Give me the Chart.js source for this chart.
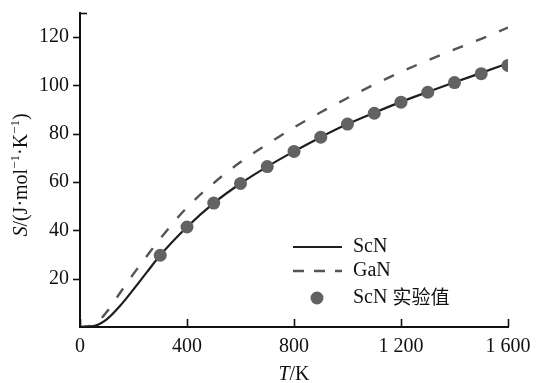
<!DOCTYPE html>
<html>
<head>
<meta charset="utf-8">
<script src="https://cdn.jsdelivr.net/npm/chart.js@4.4.1/dist/chart.umd.min.js"></script>
<style>
  html, body { margin: 0; padding: 0; background: #fff; }
  #wrap { width: 537px; height: 383px; }
</style>
</head>
<body>
<div id="wrap"><canvas id="c" width="537" height="383"></canvas></div>
<script>
// Temperatur (K) untuk kurva hitung
const temps = [0, 50, 100, 150, 200, 250, 300, 400, 500, 600, 700, 800, 900, 1000, 1100, 1200, 1300, 1400, 1500, 1600];
const scnCalc = [0, 0.4, 3.2, 8.8, 15.6, 22.7, 29.7, 41.4, 51.3, 59.4, 66.4, 72.7, 78.6, 84.0, 88.7, 93.2, 97.3, 101.3, 105.2, 109.2];
const ganCalc = [0, 0.8, 6.3, 14.2, 22.0, 29.4, 36.6, 49.5, 59.6, 68.3, 75.7, 82.6, 88.9, 94.8, 100.4, 105.6, 110.4, 114.9, 119.3, 124.0];

// Titik eksperimen ScN
const expTemps = [300, 400, 500, 600, 700, 800, 900, 1000, 1100, 1200, 1300, 1400, 1500, 1600];
const scnExp = [29.7, 41.4, 51.3, 59.4, 66.4, 72.7, 78.6, 84.0, 88.5, 93.1, 97.2, 101.2, 104.9, 108.3];

// Label sumbu
const xTickVals = [0, 400, 800, 1200, 1600];
const yTickVals = [20, 40, 60, 80, 100, 120];
const legendLabels = ['ScN', 'GaN', 'ScN 实验值'];

const serif = '"Liberation Serif", "Times New Roman", serif';
const cjk = '"Noto Sans CJK SC", sans-serif';

function toPoints(xs, ys) {
  return xs.map((t, i) => ({ x: t, y: ys[i] }));
}

function line(ctx, x1, y1, x2, y2) {
  ctx.beginPath();
  ctx.moveTo(x1, y1);
  ctx.lineTo(x2, y2);
  ctx.stroke();
}

// teks dengan potongan font berbeda (miring, superskrip)
function drawRich(ctx, parts, cx, cy) {
  let total = 0;
  parts.forEach(p => { ctx.font = p.font; p.w = ctx.measureText(p.text).width; total += p.w; });
  let x = cx - total / 2;
  ctx.textAlign = 'left';
  ctx.textBaseline = 'alphabetic';
  parts.forEach(p => {
    ctx.font = p.font;
    ctx.fillText(p.text, x, cy + (p.dy || 0));
    x += p.w;
  });
}

const decorPlugin = {
  id: 'decor',
  afterDraw(chart) {
    const { ctx, chartArea: a, scales } = chart;
    const xs = scales.x, ys = scales.y;
    ctx.save();
    ctx.strokeStyle = '#111';
    ctx.fillStyle = '#111';
    ctx.lineWidth = 1.6;

    // tick sumbu y ke luar
    yTickVals.forEach(v => {
      const py = Math.round(ys.getPixelForValue(v)) + 0.5;
      line(ctx, a.left - 7, py, a.left, py);
    });
    // ujung atas sumbu y
    line(ctx, a.left, a.top + 0.5, a.left + 7, a.top + 0.5);
    // tick sumbu x ke dalam
    xTickVals.forEach(v => {
      const px = Math.round(xs.getPixelForValue(v)) + 0.5;
      line(ctx, px, a.bottom, px, a.bottom - 8);
    });

    // judul sumbu x
    const f20 = '20px ' + serif;
    const f20i = 'italic 20px ' + serif;
    const fsup = '13px ' + serif;
    drawRich(ctx, [
      { text: 'T', font: f20i },
      { text: '/K', font: f20 }
    ], (a.left + a.right) / 2, 380);

    // judul sumbu y
    ctx.save();
    ctx.translate(27, (a.top + a.bottom) / 2 + 5);
    ctx.rotate(-Math.PI / 2);
    drawRich(ctx, [
      { text: 'S', font: f20i },
      { text: '/(J·mol', font: f20 },
      { text: '−1', font: fsup, dy: -8 },
      { text: '·K', font: f20 },
      { text: '−1', font: fsup, dy: -8 },
      { text: ')', font: f20 }
    ], 0, 0);
    ctx.restore();

    // legenda
    const lx1 = 293, lx2 = 342, tx = 353;
    const rows = [247, 271, 298];
    ctx.lineWidth = 2.2;
    ctx.strokeStyle = '#1e1e1e';
    line(ctx, lx1, rows[0], lx2, rows[0]);
    ctx.strokeStyle = '#555';
    ctx.lineWidth = 2.4;
    ctx.setLineDash([11, 10]);
    line(ctx, lx1, rows[1], lx2, rows[1]);
    ctx.setLineDash([]);
    ctx.fillStyle = '#626262';
    ctx.beginPath();
    ctx.arc(317, rows[2], 6.5, 0, Math.PI * 2);
    ctx.fill();

    ctx.fillStyle = '#111';
    ctx.textAlign = 'left';
    ctx.textBaseline = 'middle';
    ctx.font = f20;
    ctx.fillText(legendLabels[0], tx, rows[0]);
    ctx.fillText(legendLabels[1], tx, rows[1]);
    const parts = legendLabels[2].split(' ');
    ctx.fillText(parts[0], tx, rows[2]);
    const w0 = ctx.measureText(parts[0] + ' ').width;
    ctx.font = '19px ' + cjk;
    ctx.fillText(parts[1], tx + w0, rows[2] - 1);
    ctx.restore();
  }
};

const ctx = document.getElementById('c').getContext('2d');
const chart = new Chart(ctx, {
  type: 'line',
  data: {
    datasets: [
      {
        label: legendLabels[2],
        data: toPoints(expTemps, scnExp),
        showLine: false,
        pointRadius: 6.5,
        pointBackgroundColor: '#626262',
        pointBorderWidth: 0,
        clip: 0,
        order: 0
      },
      {
        label: legendLabels[0],
        data: toPoints(temps, scnCalc),
        borderColor: '#1e1e1e',
        borderWidth: 2.2,
        pointRadius: 0,
        cubicInterpolationMode: 'monotone',
        order: 1
      },
      {
        label: legendLabels[1],
        data: toPoints(temps, ganCalc),
        borderColor: '#555',
        borderWidth: 2.4,
        borderDash: [11, 14],
        pointRadius: 0,
        cubicInterpolationMode: 'monotone',
        order: 2
      }
    ]
  },
  options: {
    responsive: false,
    animation: false,
    layout: { padding: { top: 13, right: 29, left: 0, bottom: 0 } },
    plugins: {
      legend: { display: false },
      tooltip: { enabled: false }
    },
    scales: {
      x: {
        type: 'linear',
        min: 0,
        max: 1600,
        afterBuildTicks: s => { s.ticks = xTickVals.map(v => ({ value: v })); },
        afterFit: s => { s.height = 56; s.paddingLeft = 0; s.paddingRight = 0; },
        ticks: {
          padding: 8,
          color: '#111',
          font: { family: serif, size: 20 },
          maxRotation: 0,
          callback: v => v >= 1000 ? String(v).replace(/^(\d)/, '$1 ') : String(v)
        },
        grid: { display: true, drawOnChartArea: false, drawTicks: false },
        border: { display: true, color: '#111', width: 2 }
      },
      y: {
        type: 'linear',
        min: 0,
        max: 130,
        afterBuildTicks: s => { s.ticks = yTickVals.map(v => ({ value: v })); },
        afterFit: s => { s.width = 80; s.paddingTop = 0; s.paddingBottom = 0; },
        ticks: {
          padding: 11,
          color: '#111',
          font: { family: serif, size: 20 }
        },
        grid: { display: true, drawOnChartArea: false, drawTicks: false },
        border: { display: true, color: '#111', width: 2 }
      }
    }
  },
  plugins: [decorPlugin]
});
</script>
</body>
</html>
